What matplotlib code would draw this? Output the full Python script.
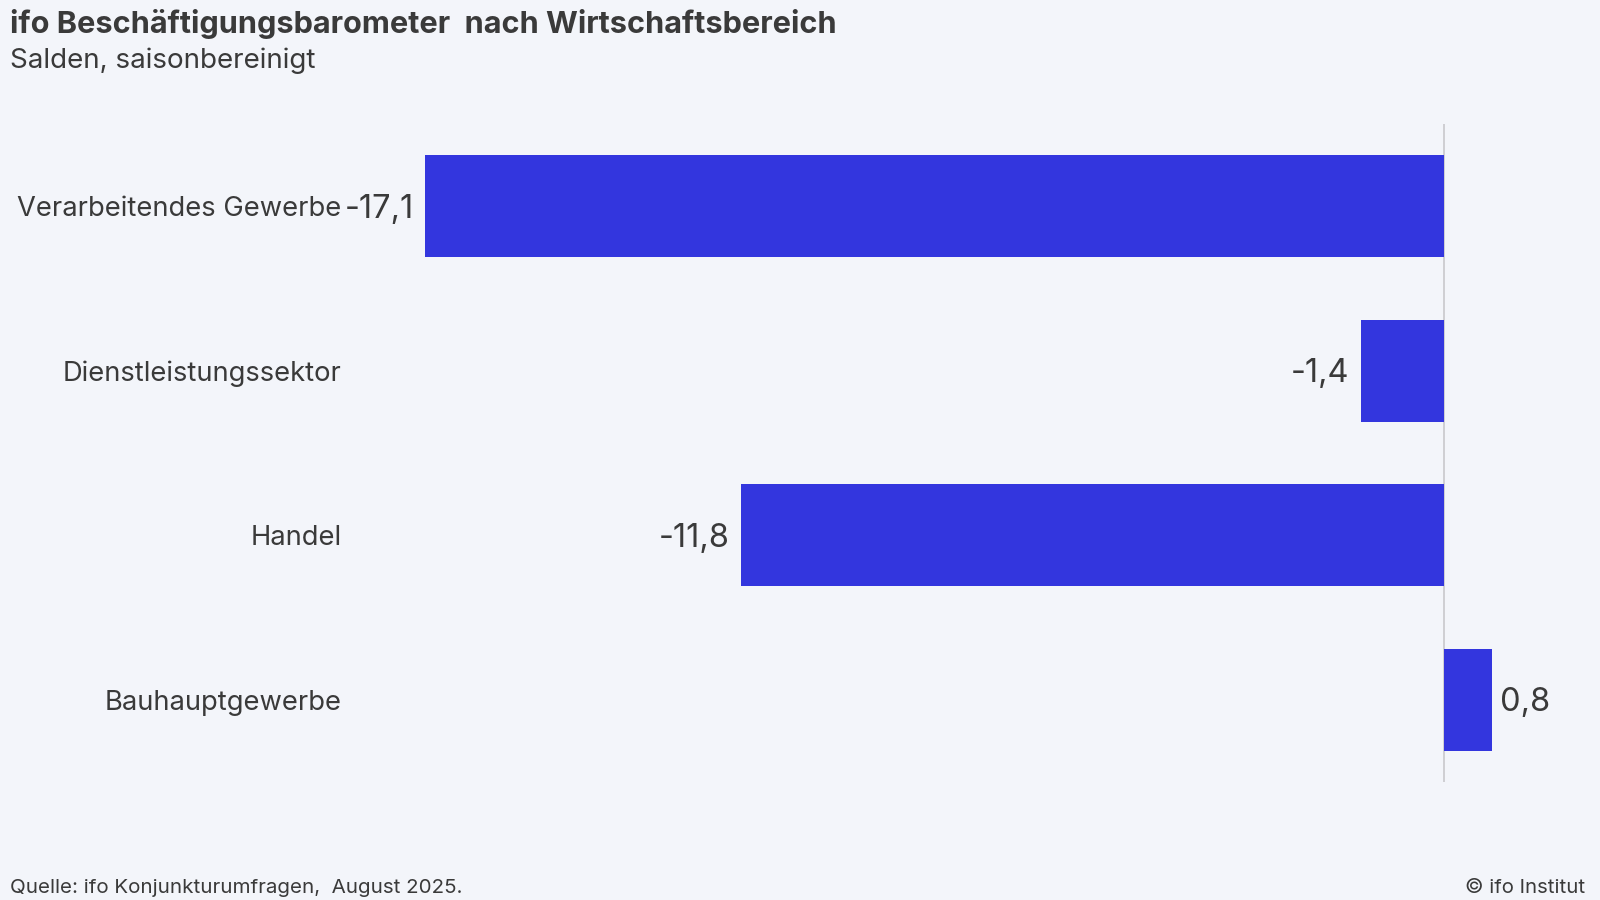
import matplotlib
matplotlib.use("Agg")
import matplotlib.pyplot as plt

categories = ["Verarbeitendes Gewerbe", "Dienstleistungssektor", "Handel", "Bauhauptgewerbe"]
values = [-17.1, -1.4, -11.8, 0.8]
value_labels = ["-17,1", "-1,4", "-11,8", "0,8"]

title = "ifo Beschäftigungsbarometer  nach Wirtschaftsbereich"
subtitle = "Salden, saisonbereinigt"
source = "Quelle: ifo Konjunkturumfragen,  August 2025."
credit = "© ifo Institut"

BG = "#f3f5fa"
BAR = "#3336de"
TXT = "#3a3a3a"

plt.rcParams["font.family"] = ["Inter", "DejaVu Sans"]

fig = plt.figure(figsize=(16, 9), dpi=100, facecolor=BG)
ax = fig.add_axes([345/1600, 1 - 782/900, 1200/1600, (782-124)/900])
ax.set_facecolor(BG)

y = list(range(len(categories)))
ax.barh(y, values, height=0.62, color=BAR, zorder=2)
ax.set_ylim(len(categories) - 0.5, -0.5)
ax.set_xlim(-18.44, 1.69)
ax.axvline(0, color="#c8c8cc", lw=1.2, zorder=1)

ax.set_yticks(y)
ax.set_yticklabels(categories, fontsize=19.7, color=TXT)
ax.tick_params(axis="y", length=0, pad=2.5)
ax.set_xticks([])
for s in ax.spines.values():
    s.set_visible(False)

for yi, v, lab in zip(y, values, value_labels):
    if v < 0:
        ax.annotate(lab, (v, yi), xytext=(-8, -2), textcoords="offset points",
                    ha="right", va="center", fontsize=23.5, color=TXT)
    else:
        ax.annotate(lab, (v, yi), xytext=(6, -2), textcoords="offset points",
                    ha="left", va="center", fontsize=23.5, color=TXT)

fig.text(10/1600, 1 - 33/900, title, fontsize=22.1, fontweight="bold", color=TXT, va="baseline")
fig.text(10/1600, 1 - 68/900, subtitle, fontsize=20, color=TXT, va="baseline")
fig.text(10/1600, 1 - 893/900, source, fontsize=14.8, color=TXT, va="baseline")
fig.text(1585/1600, 1 - 893/900, credit, fontsize=14.6, color=TXT, va="baseline", ha="right")

fig.savefig("out.png", dpi=100, facecolor=BG)
